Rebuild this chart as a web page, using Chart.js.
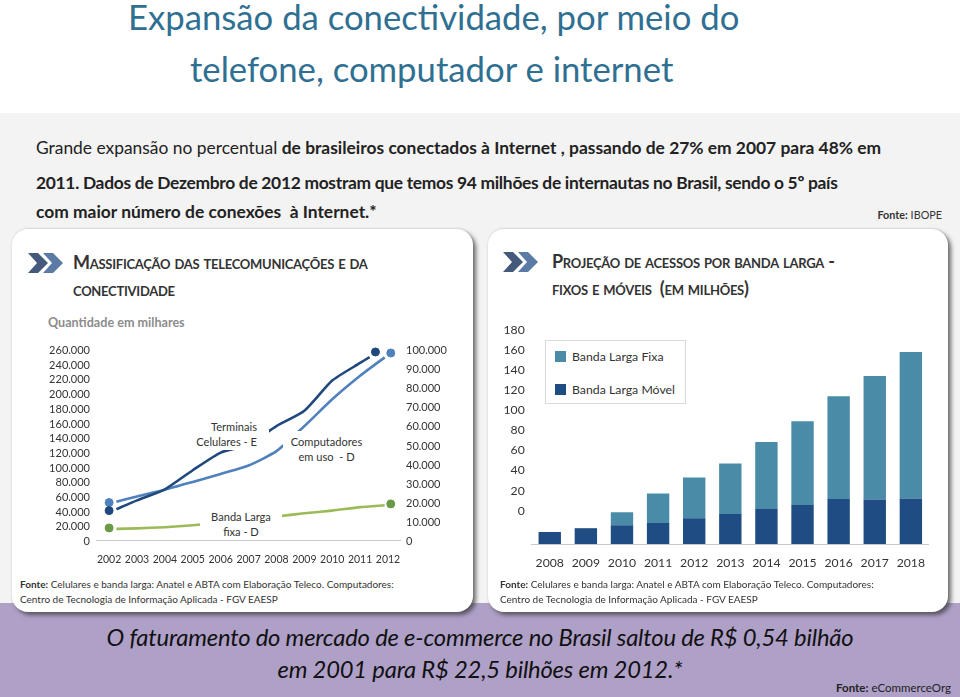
<!DOCTYPE html>
<html lang="pt-BR">
<head>
<meta charset="utf-8">
<title>Expansão da conectividade</title>
<script src="https://cdn.jsdelivr.net/npm/chart.js@4"></script>
<style>
  html, body { margin: 0; padding: 0; }
  body { width: 960px; height: 697px; position: relative; overflow: hidden; background: #fff; font-family: Lato, sans-serif; color: #222; }
  .abs { position: absolute; white-space: nowrap; }
  .grey { position: absolute; left: 0; top: 113px; width: 960px; height: 490px; background: #f3f3f3; }
  .band { position: absolute; left: 0; top: 603px; width: 960px; height: 94px; background: #afa0c8; }
  .title { font-size: 34.7px; color: #2f7092; line-height: 40px; }
  .body-line { left: 36px; font-size: 17.4px; line-height: 24px; color: #222; }
  .card { position: absolute; top: 229px; height: 383px; background: #fff; border-radius: 16px; box-shadow: 3px 3px 4px rgba(50,50,50,.7), 0 -1px 2px #ddd; }
  .head { font-variant: small-caps; font-weight: 700; font-size: 18px; letter-spacing: -0.27px; line-height: 20px; color: #333; }
  .src { font-size: 10px; line-height: 15px; color: #333; }
  .note { font-size: 11.1px; line-height: 14.5px; color: #333; background: #fff; position: absolute; box-sizing: border-box; white-space: nowrap; }
  canvas { position: absolute; }
  .legend { position: absolute; left: 545px; top: 340px; width: 141px; height: 64px; box-sizing: border-box; background: #fff; border: 1px solid #d9d9d9; font-size: 12.3px; color: #333; }
  .legend div { position: absolute; left: 26px; white-space: nowrap; }
  .legend i { position: absolute; left: -17px; top: 2px; width: 11px; height: 11px; }
  .bottom { font-style: italic; font-size: 23.8px; letter-spacing: -0.2px; width: 960px; text-align: center; left: 0; color: #111; }
</style>
</head>
<body>
<div class="grey"></div>
<div class="band"></div>

<div class="abs title" style="left:128px;top:-3px">Expansão da conectividade, por meio do</div>
<div class="abs title" style="left:190px;top:49px">telefone, computador e internet</div>

<div class="abs body-line" style="top:136px">Grande expansão no percentual <b>de brasileiros conectados à Internet , passando de 27% em 2007 para 48% em</b></div>
<div class="abs body-line" style="top:171px;font-weight:700;letter-spacing:-0.3px">2011. Dados de Dezembro de 2012 mostram que temos 94 milhões de internautas no Brasil, sendo o 5º país</div>
<div class="abs body-line" style="top:200px;font-weight:700">com maior número de conexões&nbsp; à Internet.*</div>
<div class="abs" style="right:18px;top:208px;font-size:10.8px;color:#333"><b>Fonte:</b> IBOPE</div>

<div class="card" style="left:12px;width:461px"></div>
<div class="card" style="left:488px;width:460px"></div>

<svg class="abs" style="left:28px;top:253px" width="36" height="20" viewBox="0 0 36 20"><path d="M0 0H10L20 10L10 20H0L9 10Z" fill="#44597c"/><path d="M15 0H25L35 10L25 20H15L24 10Z" fill="#5b7aa6"/></svg>
<svg class="abs" style="left:503px;top:252px" width="36" height="20" viewBox="0 0 36 20"><path d="M0 0H10L20 10L10 20H0L9 10Z" fill="#44597c"/><path d="M15 0H25L35 10L25 20H15L24 10Z" fill="#5b7aa6"/></svg>

<div class="abs head" style="left:73px;top:252px">Massificação das telecomunicações e da</div>
<div class="abs head" style="left:73px;top:279px">conectividade</div>
<div class="abs head" style="left:552px;top:251px">Projeção de acessos por banda larga -</div>
<div class="abs head" style="left:552px;top:278px">fixos e móveis&nbsp; (em milhões)</div>

<div class="abs" style="left:48px;top:315px;font-size:12.6px;font-weight:700;color:#8c8c8c">Quantidade em milhares</div>

<canvas id="chart-lines" style="left:30px;top:336px" width="430" height="240"></canvas>
<canvas id="chart-bars" style="left:490px;top:316px" width="447" height="264"></canvas>

<div class="note" style="left:190px;top:420px;width:79px;height:30px;padding-right:12px;text-align:right">Terminais<br>Celulares - E</div>
<div class="note" style="left:283px;top:431px;width:85px;height:36px;padding-top:4px;text-align:center;padding-left:2px">Computadores<br>em uso&nbsp; - D</div>
<div class="note" style="left:200px;top:510px;width:82px;height:29px;text-align:center">Banda Larga<br>fixa - D</div>

<div class="legend" id="bar-legend"></div>

<div class="abs src" style="left:20px;top:577px"><b>Fonte:</b> Celulares e banda larga: Anatel e ABTA com Elaboração Teleco. Computadores:</div>
<div class="abs src" style="left:20px;top:592px">Centro de Tecnologia de Informação Aplicada - FGV EAESP</div>
<div class="abs src" style="left:500px;top:577px"><b>Fonte:</b> Celulares e banda larga: Anatel e ABTA com Elaboração Teleco. Computadores:</div>
<div class="abs src" style="left:500px;top:592px">Centro de Tecnologia de Informação Aplicada - FGV EAESP</div>

<div class="abs bottom" style="top:623px">O faturamento do mercado de e-commerce no Brasil saltou de R$ 0,54 bilhão</div>
<div class="abs bottom" style="top:655px">em 2001 para R$ 22,5 bilhões em 2012.*</div>
<div class="abs" style="right:9px;top:681px;font-size:11.5px;color:#222"><b>Fonte:</b> eCommerceOrg</div>

<script>
// left chart
const lineYearLabels = [2002, 2003, 2004, 2005, 2006, 2007, 2008, 2009, 2010, 2011, 2012];
const leftTicks = [0, 20000, 40000, 60000, 80000, 100000, 120000, 140000, 160000, 180000, 200000, 220000, 240000, 260000];
const rightTicks = [0, 10000, 20000, 30000, 40000, 50000, 60000, 70000, 80000, 90000, 100000];

const celularesYears = [2002.26, 2003, 2004, 2005, 2006, 2007, 2008, 2009, 2010, 2011, 2011.34];
const celulares = [42000, 54000, 69000, 95000, 119000, 130000, 155000, 176000, 217000, 241000, 249000];
const celularesMarkYears = [2002, 2011.55];
const celularesMarks = [40000, 256000];

const computadoresYears = [2002.26, 2003, 2004, 2005, 2006, 2007, 2008, 2009, 2010, 2011, 2011.88];
const computadores = [20000, 22800, 26300, 30400, 34600, 39000, 46500, 59600, 73700, 86000, 95600];
const computadoresMarkYears = [2002, 2012.1];
const computadoresMarks = [19600, 97900];

const bandaFixaYears = [2002.26, 2003, 2004, 2005, 2006, 2007, 2008, 2009, 2010, 2011, 2011.88];
const bandaFixa = [5800, 6100, 6700, 7700, 9100, 10900, 12300, 14000, 15400, 17200, 18200];
const bandaFixaMarkYears = [2002, 2012.1];
const bandaFixaMarks = [6300, 18900];

// right chart
const barYears = ['2008', '2009', '2010', '2011', '2012', '2013', '2014', '2015', '2016', '2017', '2018'];
const barTicks = [0, 20, 40, 60, 80, 100, 120, 140, 160, 180];
const bandaLargaMovel = [12, 15.6, 18.6, 21, 25.6, 30, 35, 39, 45, 44.5, 45.5];
const bandaLargaFixa = [0, 0.4, 13, 29.5, 40.8, 50.4, 66.7, 83.6, 102.5, 123.3, 146.2];

const valueFont = { family: 'Lato', size: 11 };
const yearFont = { family: 'Lato', size: 10.5 };
const barTickFont = { family: 'Lato', size: 12.2 };
const tickColor = '#333';
const noGrid = { display: false, drawTicks: false };

function points(xs, ys) {
  return xs.map((x, i) => ({ x: x, y: ys[i] }));
}

function thousands(v) {
  return String(v).replace(/\B(?=(\d{3})+$)/g, '.');
}

function lineSet(xs, ys, color, axis) {
  return { data: points(xs, ys), yAxisID: axis, borderColor: color, borderWidth: 2.6, tension: 0.2, pointRadius: 0, fill: false };
}

function markSet(xs, ys, color, axis) {
  return { data: points(xs, ys), yAxisID: axis, showLine: false, clip: false, pointRadius: 4, pointBackgroundColor: color, pointBorderColor: color };
}

new Chart(document.getElementById('chart-lines'), {
  type: 'line',
  data: {
    datasets: [
      lineSet(celularesYears, celulares, '#1f497d', 'yLeft'),
      lineSet(computadoresYears, computadores, '#4f81bd', 'yRight'),
      lineSet(bandaFixaYears, bandaFixa, '#9bbb59', 'yRight'),
      markSet(celularesMarkYears, celularesMarks, '#1f497d', 'yLeft'),
      markSet(computadoresMarkYears, computadoresMarks, '#4f81bd', 'yRight'),
      markSet(bandaFixaMarkYears, bandaFixaMarks, '#6a9a45', 'yRight')
    ]
  },
  options: {
    responsive: false,
    animation: false,
    layout: { padding: { top: 13, left: 0, right: 0, bottom: 0 } },
    plugins: { legend: { display: false }, tooltip: { enabled: false } },
    scales: {
      x: {
        type: 'linear',
        min: 2001.53,
        max: 2012.43,
        afterBuildTicks: (axis) => { axis.ticks = lineYearLabels.map(v => ({ value: v })); },
        afterFit: (axis) => { axis.height = 36; },
        grid: noGrid,
        border: { color: '#c8c8c8' },
        ticks: { font: yearFont, color: tickColor, padding: 13, maxRotation: 0, autoSkip: false, callback: v => String(v) }
      },
      yLeft: {
        position: 'left',
        min: 0,
        max: 260000,
        afterBuildTicks: (axis) => { axis.ticks = leftTicks.map(v => ({ value: v })); },
        afterFit: (axis) => { axis.width = 66; },
        grid: noGrid,
        border: { display: false },
        ticks: { font: valueFont, color: tickColor, padding: 6, labelOffset: 1.5, autoSkip: false, callback: thousands }
      },
      yRight: {
        position: 'right',
        min: 0,
        max: 100000,
        afterBuildTicks: (axis) => { axis.ticks = rightTicks.map(v => ({ value: v })); },
        afterFit: (axis) => { axis.width = 60; },
        grid: noGrid,
        border: { display: false },
        ticks: { font: valueFont, color: tickColor, padding: 6, labelOffset: 1.5, autoSkip: false, callback: thousands }
      }
    }
  }
});

const fixaColor = '#4a8ba8';
const movelColor = '#1f4c82';

// the printed 0-180 labels sit higher than the bar baseline, so they get an axis of their own
new Chart(document.getElementById('chart-bars'), {
  type: 'bar',
  data: {
    labels: barYears,
    datasets: [
      { label: 'Banda Larga Móvel', data: bandaLargaMovel, backgroundColor: movelColor, yAxisID: 'yBars', barPercentage: 0.62, categoryPercentage: 1 },
      { label: 'Banda Larga Fixa', data: bandaLargaFixa, backgroundColor: fixaColor, yAxisID: 'yBars', barPercentage: 0.62, categoryPercentage: 1 }
    ]
  },
  options: {
    responsive: false,
    animation: false,
    layout: { padding: { top: 9, right: 0, left: 0, bottom: 0 } },
    plugins: { legend: { display: false }, tooltip: { enabled: false } },
    scales: {
      x: {
        stacked: true,
        afterFit: (axis) => { axis.height = 36; },
        grid: noGrid,
        border: { color: '#c8c8c8' },
        ticks: { font: barTickFont, color: tickColor, padding: 12, maxRotation: 0, autoSkip: false }
      },
      yBars: {
        stacked: true,
        display: false,
        min: 0,
        max: 213.3
      },
      yPrinted: {
        position: 'left',
        min: -33.3,
        max: 180,
        afterBuildTicks: (axis) => { axis.ticks = barTicks.map(v => ({ value: v })); },
        afterFit: (axis) => { axis.width = 41.7; },
        grid: noGrid,
        border: { display: false },
        ticks: { font: barTickFont, color: tickColor, padding: 7, autoSkip: false }
      }
    }
  }
});

const legendEl = document.getElementById('bar-legend');
[['Banda Larga Fixa', fixaColor, 8], ['Banda Larga Móvel', movelColor, 41]].forEach(item => {
  const row = document.createElement('div');
  row.style.top = item[2] + 'px';
  row.innerHTML = '<i style="background:' + item[1] + '"></i>' + item[0];
  legendEl.appendChild(row);
});
</script>
</body>
</html>
